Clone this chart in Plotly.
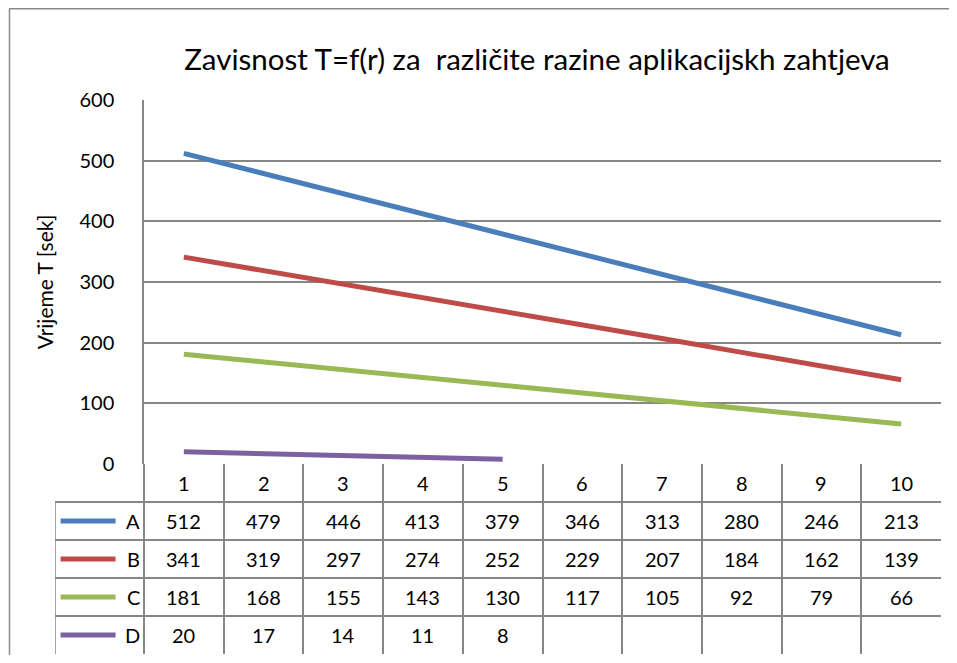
import plotly.graph_objects as go

# data
categories = [1, 2, 3, 4, 5, 6, 7, 8, 9, 10]
series_names = ["A", "B", "C", "D"]
a_vals = [512, 479, 446, 413, 379, 346, 313, 280, 246, 213]
b_vals = [341, 319, 297, 274, 252, 229, 207, 184, 162, 139]
c_vals = [181, 168, 155, 143, 130, 117, 105, 92, 79, 66]
d_vals = [20, 17, 14, 11, 8, None, None, None, None, None]
colors = ["#4A7EBB", "#BE4B48", "#98B954", "#7D60A0"]

# page body has an 8px margin all round, so the figure is drawn smaller
# (no scrollbars) and every position is offset by 8px
OFF = 8
W, H = 957 - 2 * OFF, 663 - 2 * OFF
FONT = "Lato, 'Open Sans', sans-serif"
GRID = "#868686"


def px_x(p):
    return (p - OFF) / W


def px_y(p):
    return 1 - (p - OFF) / H


fig = go.Figure()

all_vals = [a_vals, b_vals, c_vals, d_vals]
for name, vals, col in zip(series_names, all_vals, colors):
    fig.add_trace(go.Scatter(
        x=categories, y=vals, name=name, mode="lines",
        line={"color": col, "width": 5}, showlegend=False,
        xaxis="x", yaxis="y"))

# data table below the plot, drawn on its own axes
col_w = (941 - 144) / len(categories)
left_edge = 0.5 - (144 - 55) / col_w
annotations = []
for c in categories:
    annotations.append(dict(x=c, y=0, xref="x2", yref="y2", text=str(c),
                            showarrow=False, font={"size": 20}))
for r, (name, vals, col) in enumerate(zip(series_names, all_vals, colors), start=1):
    annotations.append(dict(x=0.48, y=r, xref="x2", yref="y2", text=name,
                            showarrow=False, xanchor="right", font={"size": 20}))
    for c, v in zip(categories, vals):
        if v is not None:
            annotations.append(dict(x=c, y=r, xref="x2", yref="y2", text=str(v),
                                    showarrow=False, font={"size": 20}))

BORDER = {"color": "#8A8A8A", "width": 1.5}
shapes = [
    # outer chart border: top and left only (the rest is cut off)
    dict(type="line", xref="paper", yref="paper", x0=px_x(9), x1=1,
         y0=px_y(8.8), y1=px_y(8.8), line=BORDER),
    dict(type="line", xref="paper", yref="paper", x0=px_x(9.5), x1=px_x(9.5),
         y0=0, y1=px_y(8.8), line=BORDER),
    # left edge of legend column
    dict(type="line", xref="x2", yref="y2", x0=left_edge, x1=left_edge,
         y0=0.5, y1=4.5, line={"color": GRID, "width": 1.5}),
]
for r, col in enumerate(colors, start=1):
    shapes.append(dict(type="line", xref="x2", yref="y2",
                       x0=left_edge + 0.07, x1=left_edge + 0.76, y0=r, y1=r,
                       line={"color": col, "width": 5}))

fig.update_layout(
    template="none",
    width=W, height=H,
    margin=dict(l=0, r=0, t=0, b=0),
    paper_bgcolor="white", plot_bgcolor="white",
    font={"family": FONT, "color": "#000000", "size": 20},
    title=dict(text="Zavisnost T=f(r) za \u00a0razli\u010dite razine aplikacijskh zahtjeva",
               x=px_x(537), y=px_y(60), xanchor="center", yanchor="middle",
               font={"size": 29.5, "family": FONT}),
    xaxis=dict(domain=[px_x(144), px_x(941)], range=[0.5, 10.5],
               showticklabels=False, showgrid=False, zeroline=False,
               showline=False, anchor="y", automargin=False),
    yaxis=dict(domain=[px_y(464), px_y(100)], range=[0, 600], dtick=100,
               showgrid=True, gridcolor=GRID, gridwidth=1.5,
               showline=True, linecolor=GRID, linewidth=1.5,
               zeroline=False, ticks="", ticklabelstandoff=24,
               tickfont={"size": 20}, anchor="x", automargin=False,
               title=dict(text="Vrijeme T [sek]", font={"size": 21}, standoff=20)),
    xaxis2=dict(domain=[px_x(55), px_x(941)], range=[left_edge, 10.5],
                tickvals=[c + 0.5 for c in [0] + categories], showticklabels=False,
                showgrid=True, gridcolor=GRID, gridwidth=1.5, zeroline=False,
                showline=False, anchor="y2", automargin=False),
    yaxis2=dict(domain=[px_y(654), px_y(464)], range=[4.5, -0.5],
                tickvals=[0.5, 1.5, 2.5, 3.5, 4.5], showticklabels=False,
                showgrid=True, gridcolor=GRID, gridwidth=1.5, zeroline=False,
                showline=False, anchor="x2", automargin=False),
    annotations=annotations,
    shapes=shapes,
)

# a dummy trace so the table axes are rendered
fig.add_trace(go.Scatter(x=[None], y=[None], xaxis="x2", yaxis="y2",
                         showlegend=False, hoverinfo="skip"))

fig.write_html("out.html")
